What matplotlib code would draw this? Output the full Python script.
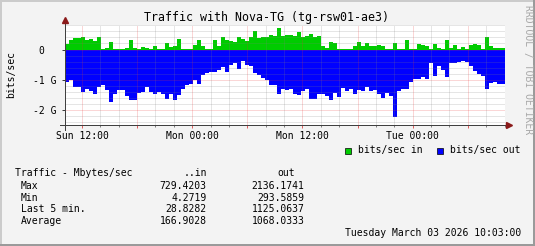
import numpy as np
import matplotlib
matplotlib.use("Agg")
import matplotlib.pyplot as plt
from matplotlib.lines import Line2D
from matplotlib.patches import Rectangle

# Traffic in G bits/sec, one value per ~26 min, Sun ~10:09 -> Tue 10:03
in_g = [0.18, 0.32, 0.38, 0.37, 0.42, 0.30, 0.34, 0.28, 0.40, 0.02, 0.04, 0.25, 0.01, 0.01, 0.01, 0.06, 0.30, 0.05, 0.01, 0.07, 0.06, 0.01,
        0.10, 0.01, 0.02, 0.20, 0.07, 0.12, 0.35, 0.01, 0.01, 0.01, 0.15, 0.30, 0.10, 0.01, 0.02, 0.30, 0.10, 0.40, 0.30, 0.28, 0.25, 0.42, 0.36,
        0.28, 0.40, 0.62, 0.38, 0.40, 0.42, 0.48, 0.45, 0.72, 0.46, 0.48, 0.48, 0.43, 0.58, 0.40, 0.43, 0.52, 0.42, 0.45, 0.10, 0.06, 0.25, 0.22,
        0.02, 0.01, 0.02, 0.01, 0.10, 0.25, 0.10, 0.20, 0.10, 0.10, 0.15, 0.12, 0.01, 0.01, 0.20, 0.01, 0.01, 0.30, 0.01, 0.01, 0.18, 0.15,
        0.12, 0.02, 0.18, 0.05, 0.02, 0.30, 0.05, 0.15, 0.03, 0.08, 0.01, 0.14, 0.18, 0.15, 0.01, 0.40, 0.12, 0.06, 0.04, 0.04]
out_g = [1.07, 1.00, 1.24, 1.24, 1.40, 1.30, 1.37, 1.46, 1.24, 1.18, 1.33, 1.74, 1.46, 1.35, 1.35, 1.55, 1.68, 1.68, 1.44, 1.40, 1.24, 1.40,
         1.46, 1.40, 1.48, 1.63, 1.48, 1.66, 1.52, 1.32, 1.18, 1.15, 1.02, 1.13, 0.85, 0.79, 0.76, 0.74, 0.68, 0.57, 0.74, 0.52, 0.44, 0.63, 0.37,
         0.52, 0.55, 0.79, 0.85, 0.93, 1.02, 1.18, 1.18, 1.46, 1.29, 1.35, 1.29, 1.46, 1.52, 1.37, 1.29, 1.63, 1.63, 1.48, 1.46, 1.55, 1.68, 1.45,
         1.57, 1.26, 1.37, 1.29, 1.46, 1.35, 1.37, 1.24, 1.37, 1.35, 1.46, 1.60, 1.44, 1.55, 2.22, 1.37, 1.29, 1.29, 1.07, 0.96, 0.97, 0.90,
         0.96, 0.46, 0.88, 0.55, 0.68, 0.90, 0.46, 0.46, 0.41, 0.37, 0.41, 0.55, 0.71, 0.82, 0.88, 1.29, 1.10, 1.07, 1.15, 1.13]

# hours since Sun 00:00
t_start, t_end = 10.15, 58.05
x_ticks = [12, 24, 36, 48]
x_labels = ["Sun 12:00", "Mon 00:00", "Mon 12:00", "Tue 00:00"]
y_ticks = [0, -1, -2]
y_labels = ["0  ", "-1 G", "-2 G"]

stat_rows = ["Max", "Min", "Last 5 min.", "Average"]
stat_in = ["729.4203", "4.2719", "28.8282", "166.9028"]
stat_out = ["2136.1741", "293.5859", "1125.0637", "1068.0333"]

W, H = 535, 246
MONO = "DejaVu Sans Mono"


def fx(x):
    return x / W


def fy(y):
    return 1 - y / H


fig = plt.figure(figsize=(W / 100, H / 100), dpi=100, facecolor="#f3f3f3")
ax = fig.add_axes([fx(65), fy(125), 440 / W, 100 / H])
ax.set_facecolor("white")
for s in ax.spines.values():
    s.set_visible(False)

# Data areas
edges = np.linspace(t_start, t_end, len(in_g) + 1)
ax.stairs(in_g, edges, baseline=0, fill=True, color="#00cc00", lw=0, zorder=2)
ax.stairs(-np.array(out_g), edges, baseline=0, fill=True, color="#0000ff", lw=0, zorder=2)

ax.set_xlim(t_start, t_end)
ax.set_ylim(-2.496, 0.81)

# Grid (drawn over the data like rrdtool does)
dots = (0, (1, 1))
for v in np.arange(-2.4, 0.81, 0.2):
    if abs(v - round(v)) > 0.01:
        ax.axhline(v, color=(0.5, 0.5, 0.5, 0.4), lw=0.72, ls=dots, zorder=3)
for v in [0, -1, -2]:
    ax.axhline(v, color=(0.9, 0.2, 0.2, 0.4), lw=0.72, ls=dots, zorder=3)
for h in range(12, 59, 2):
    if h % 6:
        ax.axvline(h, color=(0.5, 0.5, 0.5, 0.4), lw=0.72, ls=dots, zorder=3)
for h in range(12, 59, 6):
    ax.axvline(h, color=(0.9, 0.2, 0.2, 0.4), lw=0.72, ls=dots, zorder=3)

# Ticks
ax.set_xticks(x_ticks, x_labels)
ax.set_yticks(y_ticks, y_labels)
ax.tick_params(axis="x", length=0, pad=4.2, labelsize=7)
ax.tick_params(axis="y", length=2, width=0.72, color="#404040", pad=4.3, labelsize=7)
for lab in ax.get_xticklabels() + ax.get_yticklabels():
    lab.set_family(MONO)
xt = ax.get_xaxis_transform()
ax.vlines([h for h in range(12, 59, 2) if h % 6], -0.02, 0.0, transform=xt,
          color="#808080", lw=0.72, clip_on=False, zorder=4)
ax.vlines(list(range(12, 59, 6)), -0.03, 0.0, transform=xt,
          color="#e06060", lw=0.72, clip_on=False, zorder=4)

# Axis lines with arrows
ax.plot([-0.011, 1.005], [0, 0], transform=ax.transAxes, color="#404040", lw=0.72, clip_on=False, zorder=5)
ax.plot([0, 0], [-0.05, 1.02], transform=ax.transAxes, color="#404040", lw=0.72, clip_on=False, zorder=5)
ax.plot([1.01], [0], marker=">", ms=4, color="#8b1a1a", transform=ax.transAxes, clip_on=False, zorder=6)
ax.plot([0], [1.05], marker="^", ms=4, color="#8b1a1a", transform=ax.transAxes, clip_on=False, zorder=6)

# Texts
fig.text(fx(266), fy(17.5), "Traffic with Nova-TG (tg-rsw01-ae3)", family=MONO, fontsize=8.4,
         ha="center", va="center")
fig.text(fx(11), fy(74), "bits/sec", family=MONO, fontsize=7, rotation=90, ha="center", va="center")
fig.text(fx(528), fy(70), "RRDTOOL / TOBI OETIKER", family=MONO, fontsize=7, rotation=270,
         ha="center", va="center", color="#a8a8a8")

# Legend
fig.add_artist(Rectangle((fx(344.5), fy(153.5)), 6 / W, 6 / H, transform=fig.transFigure,
                         facecolor="#00cc00", edgecolor="black", lw=0.5))
fig.text(fx(358), fy(150.5), "bits/sec in", family=MONO, fontsize=7, ha="left", va="center")
fig.add_artist(Rectangle((fx(437), fy(153.5)), 6 / W, 6 / H, transform=fig.transFigure,
                         facecolor="#0000ff", edgecolor="black", lw=0.5))
fig.text(fx(450), fy(150.5), "bits/sec out", family=MONO, fontsize=7, ha="left", va="center")

# Statistics table
fig.text(fx(15), fy(173.3), "Traffic - Mbytes/sec", family=MONO, fontsize=7, ha="left", va="center")
fig.text(fx(206.7), fy(173.3), "..in", family=MONO, fontsize=7, ha="right", va="center")
fig.text(fx(295.5), fy(173.3), "out", family=MONO, fontsize=7, ha="right", va="center")
for i, name in enumerate(stat_rows):
    y = 186 + i * 11.7
    fig.text(fx(20.7), fy(y), name, family=MONO, fontsize=7, ha="left", va="center")
    fig.text(fx(206.7), fy(y), stat_in[i], family=MONO, fontsize=7, ha="right", va="center")
    fig.text(fx(304.5), fy(y), stat_out[i], family=MONO, fontsize=7, ha="right", va="center")
fig.text(fx(521), fy(233), "Tuesday March 03 2026 10:03:00", family=MONO, fontsize=7,
         ha="right", va="center")

# 3D frame
light, dark = "#cbcbcb", "#9a9a9a"
fig.add_artist(Line2D([0, 1], [fy(1), fy(1)], transform=fig.transFigure, color=light, lw=1.44))
fig.add_artist(Line2D([fx(1), fx(1)], [0, 1], transform=fig.transFigure, color=light, lw=1.44))
fig.add_artist(Line2D([0, 1], [fy(H - 1), fy(H - 1)], transform=fig.transFigure, color=dark, lw=1.44))
fig.add_artist(Line2D([fx(W - 1), fx(W - 1)], [0, 1], transform=fig.transFigure, color=dark, lw=1.44))

fig.savefig("out.png", dpi=100, facecolor=fig.get_facecolor())
